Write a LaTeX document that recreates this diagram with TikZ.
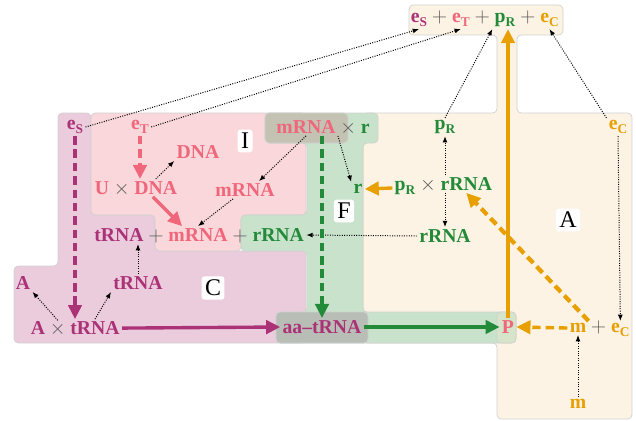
\documentclass[tikz,border=0pt]{standalone}
\usepackage{fontspec}
\setmainfont{Liberation Serif}
\usetikzlibrary{arrows.meta,positioning,calc}
\definecolor{cmag}{RGB}{172,50,120}
\definecolor{cpink}{RGB}{240,102,122}
\definecolor{cgreen}{RGB}{34,138,56}
\definecolor{corange}{RGB}{232,160,0}
\definecolor{fillA}{RGB}{252,243,228}
\definecolor{fillC}{RGB}{234,204,221}
\definecolor{fillI}{RGB}{249,215,218}
\definecolor{fillF}{RGB}{201,226,204}
\definecolor{fillMF}{RGB}{196,194,179}
\definecolor{fillCF}{RGB}{184,189,181}
\definecolor{fillFA}{RGB}{214,228,201}
\def\lowsub#1{\raisebox{-0.45ex}{\fontsize{9.5}{10}\selectfont #1}}
\tikzset{
  txt/.style={font=\bfseries\fontsize{14}{16}\selectfont, inner sep=1.5pt},
  opn/.style={text=black!65, inner sep=1.5pt, font=\fontsize{14}{16}\selectfont},
  region/.style={draw=black!18, line width=0.5pt, rounded corners=3pt},
  tag/.style={fill=white, rounded corners=2pt, inner sep=2.5pt, font=\fontsize{17}{17}\selectfont},
  dotarrow/.style={densely dotted, line width=0.7pt, -{Latex[length=4.5pt,width=3.5pt]}},
  bigarrow/.style={line width=2.4pt, -{Triangle[length=10pt,width=9.5pt]}},
  dasharrow/.style={bigarrow, dash pattern=on 6pt off 3.5pt},
}

\begin{document}
\begin{tikzpicture}[x=0.025cm,y=-0.025cm]
			%%%%% START %%%%%
			\useasboundingbox (0,0) rectangle (636,420);
			
			% regions
			\draw[region, fill=fillA] (409,5) -- (563,5) -- (563,35) -- (517,35) -- (517,113) -- (632,113) -- (632,419) -- (497,419) -- (497,343) -- (363,343) -- (363,113) -- (497,113) -- (497,35) -- (409,35) -- cycle;
			\draw[region, fill=fillC] (58,113) -- (91,113) -- (91,215) -- (155,215) -- (155,251) -- (306,251) -- (306,343) -- (14,343) -- (14,266) -- (58,266) -- cycle;
			\draw[region, fill=fillI] (91,113) -- (306,113) -- (306,215) -- (241,215) -- (241,251) -- (155,251) -- (155,215) -- (91,215) -- cycle;
			\draw[region, fill=fillF] (265,113) -- (378,113) -- (378,143) -- (363,143) -- (363,312) -- (516,312) -- (516,343) -- (276,343) -- (276,312) -- (307,312) -- (307,251) -- (241,251) -- (241,215) -- (307,215) -- (307,143) -- (265,143) -- cycle;
			\draw[region, fill=fillMF] (265,113) rectangle (348,143);
			\draw[region, fill=fillCF] (276,312) rectangle (368,343);
			\draw[region, fill=fillFA] (497,312) rectangle (516,343);
			
			\node[tag] (lI) at (245,141) {I};
			\node[tag] (lF) at (344,211) {F};
			\node[tag] (lC) at (213,288) {C};
			\node[tag] (lA) at (568,220) {A};
			
			% top
			\node[txt, text=cgreen] (tpr) at (505,20) {p\lowsub{R}};
			\node[opn, base left=0pt of tpr] (tp2) {$+$};
			\node[txt, text=cpink, base left=0pt of tp2] (tet) {e\lowsub{T}};
			\node[opn, base left=0pt of tet] (tp1) {$+$};
			\node[txt, text=cmag, base left=0pt of tp1] (tes) {e\lowsub{S}};
			\node[opn, base right=0pt of tpr] (tp3) {$+$};
			\node[txt, text=corange, base right=0pt of tp3] (tec) {e\lowsub{C}};
			
			% I and C
			\node[txt, text=cmag] (es) at (75,127) {e\lowsub{S}};
			\node[txt, text=cpink] (et) at (140,127) {e\lowsub{T}};
			\node[txt, text=cpink] (dna) at (198,152) {DNA};
			\node[txt, text=cpink] (u) at (102,188) {U};
			\node[opn, base right=0pt of u] (ux) {$\times$};
			\node[txt, text=cpink, base right=0pt of ux] (udna) {DNA};
			\node[txt, text=cpink] (imrna) at (245,190) {mRNA};
			\node[txt, text=cpink] (rm) at (198,235) {mRNA};
			\node[opn, base left=0pt of rm] (rp1) {$+$};
			\node[txt, text=cmag, base left=0pt of rp1] (rt) {tRNA};
			\node[opn, base right=0pt of rm] (rp2) {$+$};
			\node[txt, text=cgreen, base right=0pt of rp2] (rr) {rRNA};
			\node[txt, text=cmag] (ca) at (23,283) {A};
			\node[txt, text=cmag] (ctrna) at (138,283) {tRNA};
			\node[txt, text=cmag] (xa) at (38,328) {A};
			\node[opn, base right=0pt of xa] (xx) {$\times$};
			\node[txt, text=cmag, base right=0pt of xx] (xt) {tRNA};
			
			% F
			\node[txt, text=cpink] (mm) at (306,127) {mRNA};
			\node[opn, base right=0pt of mm] (mx) {$\times$};
			\node[txt, text=cgreen, base right=0pt of mx] (mr) {r};
			\node[txt, text=cgreen] (fr) at (358,189) {r};
			\node[txt, text=cmag] (aat) at (322,327) {aa--tRNA};
			\node[txt, text=cpink] (prot) at (508,327) {P};
			
			% A
			\node[txt, text=cgreen] (pp) at (405,188) {p\lowsub{R}};
			\node[opn, base right=0pt of pp] (px) {$\times$};
			\node[txt, text=cgreen, base right=0pt of px] (prr) {rRNA};
			\node[txt, text=cgreen] (ppr) at (445,127) {p\lowsub{R}};
			\node[txt, text=cgreen] (prrna) at (445,236) {rRNA};
			\node[txt, text=corange] (ec) at (618,127) {e\lowsub{C}};
			\node[txt, text=corange] (ma) at (578,328) {m};
			\node[opn, base right=0pt of ma] (mp) {$+$};
			\node[txt, text=corange, base right=0pt of mp] (mec) {e\lowsub{C}};
			\node[txt, text=corange] (mb) at (578,404) {m};
			
			% dotted
			\draw[dotarrow] (es.east) -- (tes.south);
			\draw[dotarrow] (et.east) -- (tet.south);
			\draw[dotarrow] (ppr.north) -- (tpr.south west);
			\draw[dotarrow] (ec.north west) -- (tec.south);
			\draw[dotarrow] (udna.north) -- (dna.south west);
			\draw[dotarrow] (mm.south) -- ($(imrna.north)+(14,0)$);
			\draw[dotarrow] ($(imrna.south)+(-12,0)$) -- (rm.north);
			\draw[dotarrow] (mm.south east) -- (fr.north west);
			\draw[dotarrow] (ppr.south |- prr.north) -- (ppr.south);
			\draw[dotarrow] (prrna.north |- prr.south) -- (prrna.north);
			\draw[dotarrow] (prrna.west) -- (rr.east);
			\draw[dotarrow] (ec.south) -- (mec.north);
			\draw[dotarrow] (mb.north) -- (ma.south);
			\draw[dotarrow] (xx.north) -- (ca.south east);
			\draw[dotarrow] (xt.north) -- (ctrna.south west);
			\draw[dotarrow] (ctrna.north) -- (ctrna.north |- rt.south);
			
			% thick
			\draw[dasharrow, cmag] (es.south) -- (es.south |- xt.north);
			\draw[dasharrow, cpink] (et.south) -- (et.south |- udna.north);
			\draw[bigarrow, cpink] ($(udna.south)+(-3,0)$) -- ($(rm.north west)+(16,0)$);
			\draw[dasharrow, cgreen] (aat.north |- mm.south) -- (aat.north);
			\draw[bigarrow, cmag] (xt.east) -- (aat.west);
			\draw[bigarrow, cgreen] (aat.east) -- (prot.west);
			\draw[bigarrow, corange] (pp.west) -- (fr.east);
			\draw[bigarrow, corange] (prot.north) -- (prot.north |- tpr.south);
			\draw[dasharrow, corange, line width=3pt] (ma.north east) -- (prr.south);
			\draw[dasharrow, corange] (ma.west) -- (prot.east);
			%%%%% END %%%%%
		\end{tikzpicture}
\end{document}
